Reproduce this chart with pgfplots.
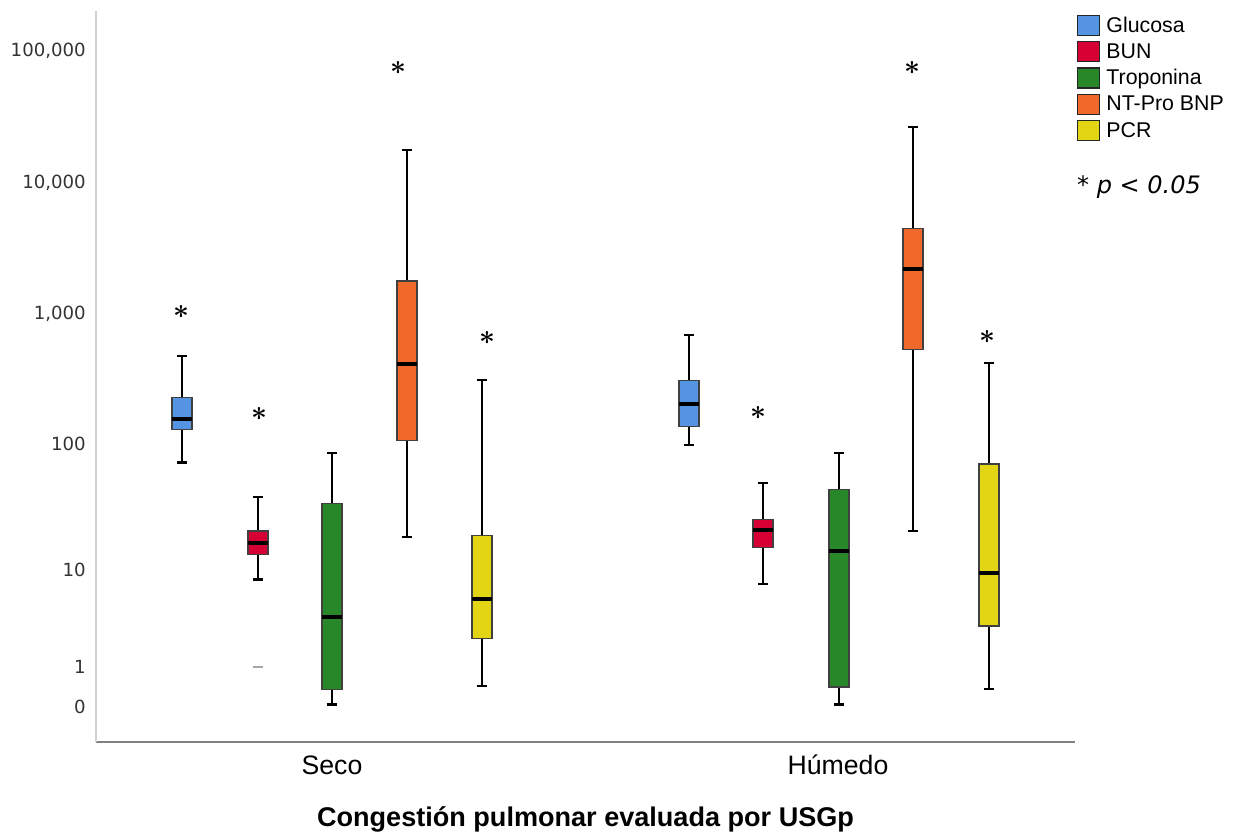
\documentclass[border=0pt]{standalone}
\usepackage{pgfplots}
\pgfplotsset{compat=1.18}
\usepgfplotslibrary{statistics}
\usepackage{fontspec}
\setmainfont{Liberation Sans}
\newfontfamily\dejavu{DejaVu Sans}
\definecolor{glu}{RGB}{84,148,226}
\definecolor{bun}{RGB}{214,0,52}
\definecolor{tro}{RGB}{40,135,40}
\definecolor{ntp}{RGB}{240,105,42}
\definecolor{pcr}{RGB}{226,214,20}
% axis position of a value v: log10(1+v)  (SPSS "safe log" scale)
\newcommand\tval[2]{\begingroup\pgfkeys{/pgf/fpu=true,/pgf/fpu/output format=fixed}\pgfmathparse{ln(1+#2)/2.302585093}\global\let#1\pgfmathresult\endgroup}
\pgfplotsset{
  bxv/.code n args={6}{\tval\tA{#2}\tval\tB{#3}\tval\tC{#4}\tval\tD{#5}\tval\tE{#6}%
    \edef\bxnext{\noexpand\pgfkeysalso{boxplot prepared={draw position=#1, lower whisker=\tA, lower quartile=\tB, median=\tC, upper quartile=\tD, upper whisker=\tE, box extend=0.2667, whisker extend=0.1333}}}\bxnext},
  bx/.style={draw=black!75, line width=0.8pt,
    boxplot/draw direction=y,
    boxplot/every whisker/.style={black, line width=2.1pt},
    boxplot/every median/.style={black, line width=2.8pt}},
}
\begin{document}
\begin{tikzpicture}
\path[use as bounding box] (-72pt,-68.25pt) rectangle (857.25pt,556.5pt);
\begin{axis}[at={(0,0)}, anchor=south west, scale only axis,
  width=734.25pt, height=548.25pt,
  xmin=-1.1467, xmax=11.907, ymin=-0.26657, ymax=5.3009,
  axis x line=bottom, axis y line=left,
  x axis line style={-, draw=black!50, line width=1.8pt},
  y axis line style={-, draw=black!18, line width=1.5pt},
  major tick length=0pt,
  xtick={2,8.7467}, xticklabels={Seco,Húmedo},
  ytick={0,0.30103,1.041393,2.004321,3.000434,4.000043,5.000004},
  yticklabels={0,1,10,100,{1,000},{10,000},{100,000}},
  x tick label style={anchor=base, inner sep=0pt, yshift=-24pt, font=\fontsize{20}{20}\selectfont},
  y tick label style={anchor=base east, inner sep=0pt, xshift=-7.5pt, yshift=-4.8pt, text=black!80, font=\dejavu\fontsize{13.6}{14}\selectfont},
  xlabel={\bfseries Congestión pulmonar evaluada por USGp},
  xlabel style={at={(rel axis cs:0.5,0)}, anchor=base, inner sep=0pt, yshift=-63pt, font=\fontsize{20.3}{20.3}\selectfont},
  legend cell align=left,
  legend style={at={(rel axis cs:1.002,0.995)}, anchor=north west, draw=none, fill=none,
    font=\fontsize{16}{16}\selectfont, row sep=3.8pt, inner sep=0pt,
    nodes={inner sep=0pt},
    /tikz/every odd column/.append style={column sep=5pt}},
  clip=false,
]
\addlegendimage{legend image code/.code={\draw[fill=glu,draw=black!85,line width=0.9pt] (0pt,-7.5pt) rectangle (16pt,7.5pt);}}
\addlegendentry{Glucosa}
\addlegendimage{legend image code/.code={\draw[fill=bun,draw=black!85,line width=0.9pt] (0pt,-7.5pt) rectangle (16pt,7.5pt);}}
\addlegendentry{BUN}
\addlegendimage{legend image code/.code={\draw[fill=tro,draw=black!85,line width=0.9pt] (0pt,-7.5pt) rectangle (16pt,7.5pt);}}
\addlegendentry{Troponina}
\addlegendimage{legend image code/.code={\draw[fill=ntp,draw=black!85,line width=0.9pt] (0pt,-7.5pt) rectangle (16pt,7.5pt);}}
\addlegendentry{NT-Pro BNP}
\addlegendimage{legend image code/.code={\draw[fill=pcr,draw=black!85,line width=0.9pt] (0pt,-7.5pt) rectangle (16pt,7.5pt);}}
\addlegendentry{PCR}

% Seco:  position, lower whisker, Q1, median, Q3, upper whisker (raw values)
\addplot[bxv={0}{72}{128}{156}{225}{470}, bx, fill=glu, forget plot] coordinates {};
% BUN outlier at value 1 -> axis position log10(2)
\addplot[bxv={1.0133}{8.3}{13.6}{16.7}{20.9}{38.7}, bx, fill=bun, forget plot,
  mark=-, mark size=3.5pt, mark options={draw=black!35, line width=1.5pt}]
  coordinates {(0,0.30103)};
\addplot[bxv={2}{0.05}{0.35}{3.85}{34.2}{84.9}, bx, fill=tro, forget plot] coordinates {};
\addplot[bxv={3}{18.7}{106}{410}{1755}{17460}, bx, fill=ntp, forget plot] coordinates {};
\addplot[bxv={4}{0.445}{2.35}{5.65}{19.4}{308}, bx, fill=pcr, forget plot] coordinates {};
% Humedo
\addplot[bxv={6.76}{98}{135}{202}{304}{680}, bx, fill=glu, forget plot] coordinates {};
\addplot[bxv={7.747}{7.65}{15.5}{21.3}{26.0}{49.8}, bx, fill=bun, forget plot] coordinates {};
\addplot[bxv={8.76}{0.05}{0.42}{14.4}{44.7}{84.9}, bx, fill=tro, forget plot] coordinates {};
\addplot[bxv={9.747}{20.9}{523}{2168}{4373}{26130}, bx, fill=ntp, forget plot] coordinates {};
\addplot[bxv={10.76}{0.37}{3.14}{9.48}{69.9}{416}, bx, fill=pcr, forget plot] coordinates {};

% significance asterisks (positions on the axis scale)
\addplot[only marks, mark=text, text mark={\fontsize{22}{22}\selectfont\boldmath$\ast$}, forget plot]
  coordinates {(-0.0133,3.008) (1.0267,2.2315) (2.88,4.867) (4.0667,2.810) (7.68,2.239) (9.733,4.867) (10.733,2.818)};

\node[anchor=west, font=\dejavu\itshape\fontsize{18}{18}\selectfont, inner sep=0pt] at (rel axis cs:1.002,0.7592) {* p < 0.05};
\end{axis}
\end{tikzpicture}
\end{document}
